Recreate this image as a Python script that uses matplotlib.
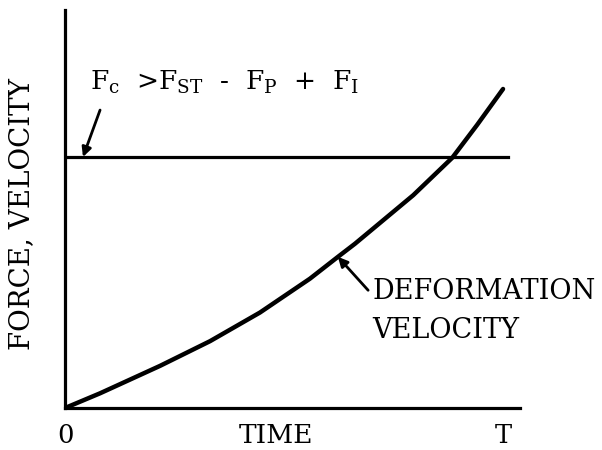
import matplotlib
matplotlib.use("Agg")
import matplotlib.pyplot as plt

plt.rcParams['font.family'] = ['DejaVu Serif']
plt.rcParams['mathtext.fontset'] = 'dejavuserif'

# normalised time (T = 1) and deformation velocity
time = [0.0, 0.080, 0.217, 0.331, 0.445, 0.559, 0.623, 0.662, 0.795, 0.884, 0.941, 1.0]
velocity = [0.0, 0.037, 0.106, 0.168, 0.240, 0.325, 0.380, 0.413, 0.535, 0.629, 0.712, 0.802]

# constant force level
force_level = 0.631
force_end = 1.011

tick_pos = [0, 1]
tick_labels = ['0', 'T']

fig = plt.figure(figsize=(6.02, 4.5), dpi=100)
ax = fig.add_axes([0.108, 0.0933, 0.756, 0.884])

ax.plot(time, velocity, color='black', lw=3.2, solid_capstyle='round',
        solid_joinstyle='round')
ax.plot([0, force_end], [force_level, force_level], color='black', lw=2.3)

ax.set_xlim(0, 1.039)
ax.set_ylim(0, 1)
for s in ['top', 'right']:
    ax.spines[s].set_visible(False)
for s in ['left', 'bottom']:
    ax.spines[s].set_linewidth(2.3)

ax.set_xticks(tick_pos)
ax.set_xticklabels(tick_labels, fontsize=18.5)
ax.tick_params(axis='x', length=0, pad=11)
ax.set_yticks([])

ax.set_xlabel('TIME', fontsize=19)
ax.xaxis.set_label_coords(0.464, -0.037)
ax.set_ylabel('FORCE, VELOCITY', fontsize=20)
ax.yaxis.set_label_coords(-0.066, 0.487)

arrow = dict(arrowstyle='-|>', color='black', lw=2, mutation_scale=14, shrinkA=0, shrinkB=0)

ax.text(0.057, 0.799,
        r'F$_\mathregular{c}$  >F$_\mathregular{ST}$  -  F$_\mathregular{P}$  +  F$_\mathregular{I}$',
        fontsize=19, ha='left', va='baseline')
ax.annotate('', xy=(0.041, force_level), xytext=(0.080, 0.749), arrowprops=arrow)

ax.text(0.701, 0.326, 'DEFORMATION\nVELOCITY', fontsize=19.5, ha='left', va='top',
        linespacing=1.55)
ax.annotate('', xy=(time[6], velocity[6]), xytext=(0.692, 0.296), arrowprops=arrow)

fig.savefig('out.png', dpi=100)
